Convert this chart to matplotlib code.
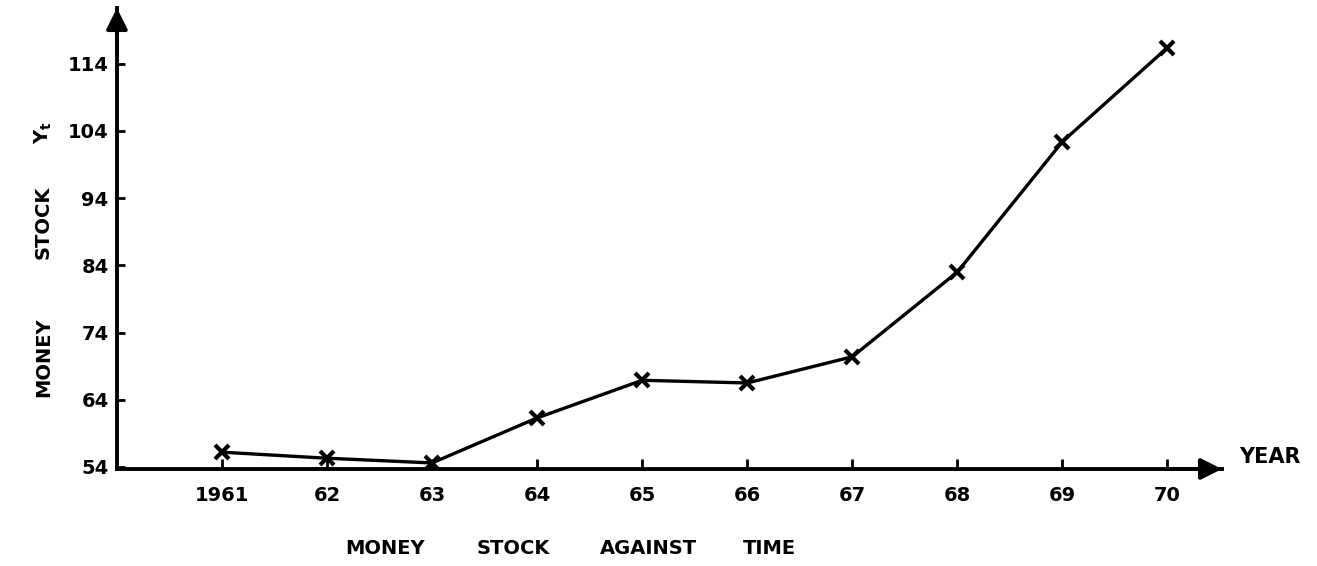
import matplotlib
matplotlib.use("Agg")
import matplotlib.pyplot as plt

# money stock by year
years = [1961, 1962, 1963, 1964, 1965, 1966, 1967, 1968, 1969, 1970]
money_stock = [56.2, 55.3, 54.6, 61.3, 66.9, 66.5, 70.4, 83.0, 102.4, 116.4]
year_labels = ["1961", "62", "63", "64", "65", "66", "67", "68", "69", "70"]
y_ticks = [54, 64, 74, 84, 94, 104, 114]

fig = plt.figure(figsize=(13.17, 5.66), dpi=100)
ax = fig.add_axes([0.0888, 0.1714, 0.8391, 0.8145])

ax.plot(years, money_stock, color="black", linewidth=2.4,
        marker="x", markersize=10, markeredgewidth=3)

ax.set_xlim(1960.0, 1970.52)
ax.set_ylim(53.7, 122.3)

for side in ("top", "right"):
    ax.spines[side].set_visible(False)
for side in ("left", "bottom"):
    ax.spines[side].set_linewidth(2.8)

# arrow heads on the axes
arrow = dict(arrowstyle="-|>", lw=2.8, mutation_scale=32, color="black",
             shrinkA=0, shrinkB=0)
ax.annotate("", xy=(0, 1.0), xytext=(0, 0.9), xycoords="axes fraction",
            arrowprops=arrow, annotation_clip=False)
ax.annotate("", xy=(1.0, 0), xytext=(0.95, 0), xycoords="axes fraction",
            arrowprops=arrow, annotation_clip=False)

ax.set_xticks(years)
ax.set_xticklabels(year_labels)
ax.set_yticks(y_ticks)
ax.tick_params(axis="x", direction="in", length=7, width=2, pad=12)
ax.tick_params(axis="y", direction="in", length=6, width=2, pad=6)
for lbl in ax.get_xticklabels() + ax.get_yticklabels():
    lbl.set_fontsize(14)
    lbl.set_fontweight("bold")

# y label, words spread out as in the hand lettering
txt = dict(fontsize=14, fontweight="bold", ha="center", va="center")
fig.text(0.033, 1 - 357 / 566, "MONEY", rotation=90, **txt)
fig.text(0.033, 1 - 222 / 566, "STOCK", rotation=90, **txt)
fig.text(0.033, 1 - 133 / 566, r"$\mathbf{Y_t}$", rotation=90, **txt)

# caption under the axis
for word, xc in [("MONEY", 385), ("STOCK", 513), ("AGAINST", 648), ("TIME", 769)]:
    fig.text(xc / 1317, 1 - 549 / 566, word, **txt)

fig.text(0.941, 0.192, "YEAR", ha="left", va="center",
         fontsize=15, fontweight="bold")

fig.savefig("out.png", dpi=100)
plt.close(fig)
